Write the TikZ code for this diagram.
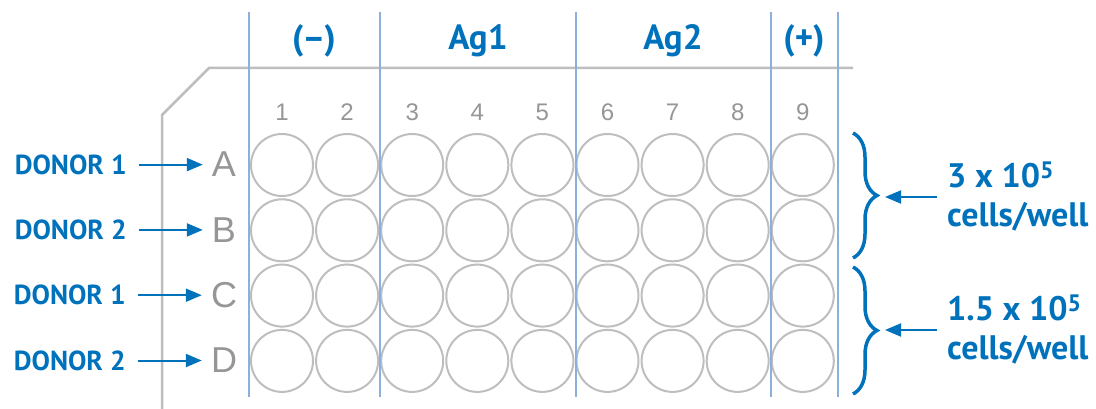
\documentclass[tikz,border=0pt]{standalone}
\usepackage{fontspec}
\setmainfont{PT Sans}
\newfontfamily\platefont{Liberation Sans}
\usetikzlibrary{arrows.meta, positioning, decorations.pathreplacing}
\definecolor{cblue}{RGB}{0,114,188}
\definecolor{lineblue}{RGB}{140,176,220}
\definecolor{wellgray}{RGB}{190,190,190}
\definecolor{txtgray}{RGB}{150,150,150}

\begin{document}
\begin{tikzpicture}[x=1pt, y=-1pt,
    well/.style={circle, draw=wellgray, line width=2pt, minimum size=62pt, inner sep=0pt},
    head/.style={text=cblue, font=\fontsize{35}{40}\selectfont\bfseries, anchor=base},
    colnum/.style={text=txtgray, font=\platefont\fontsize{24}{28}\selectfont, anchor=base},
    rowlbl/.style={text=txtgray, font=\platefont\fontsize{36}{40}\selectfont, inner sep=0pt, anchor=base},
    donor/.style={text=cblue, font=\fontsize{27.5}{32}\selectfont\bfseries, inner sep=0pt},
    dens/.style={text=cblue, font=\fontsize{34}{39}\selectfont\bfseries, align=left, anchor=west, inner sep=0pt},
    arr/.style={-{Triangle[length=16pt,width=13pt]}, cblue, line width=2pt},
    brc/.style={decorate, decoration={brace, amplitude=24pt}, cblue, line width=3.5pt}]
    \useasboundingbox (0,0) rectangle (1096,409);
    % plate outline
    \draw[wellgray, line width=2.5pt] (853,68) -- (209,68) -- (162,115) -- (162,409);
    % headers
    \node[head] (hneg) at (314,50) {(--)};
    \node[head] (hag1) at (478,50) {Ag1};
    \node[head] (hag2) at (673,50) {Ag2};
    \node[head] (hpos) at (804,50) {(+)};
    \foreach \c in {1,...,9}
        \node[colnum] (n\c) at ({282+65.1*(\c-1)},121) {\c};
    % wells
    \foreach \r [count=\i from 0] in {A,B,C,D}{
        \node[rowlbl] (row\r) at (224,{177+65.3*\i}) {\r};
        \foreach \c in {1,...,9}
            \node[well] (w\r\c) at ({282+65.1*(\c-1)},{165+65.3*\i}) {};
    }
    \foreach \x in {249,380,576,771,838}
        \draw[lineblue, line width=2pt] (\x,12) -- (\x,397);
    % donors
    \foreach \r/\d in {A/1,B/2,C/1,D/2}{
        \node[donor, left=85pt of row\r] (don\r) {DONOR \d};
        \draw[arr, shorten <=12pt, shorten >=9pt] (don\r) -- (row\r);
    }
    % cell densities
    \coordinate (b1t) at (853,133);
    \coordinate (b1b) at (853,258);
    \coordinate (b2t) at (853,267);
    \coordinate (b2b) at (853,394);
    \coordinate (tip1) at (877,197);
    \coordinate (tip2) at (877,330);
    \draw[brc] (b1t) -- (b1b);
    \draw[brc] (b2t) -- (b2b);
    \node[dens] (dn1) at (947,197) {3 x 10\textsuperscript{5}\\cells/well};
    \node[dens] (dn2) at (947,330) {1.5 x 10\textsuperscript{5}\\cells/well};
    \draw[arr, shorten <=10pt, shorten >=8pt] (dn1.west) -- (tip1);
    \draw[arr, shorten <=10pt, shorten >=8pt] (dn2.west) -- (tip2);
\end{tikzpicture}
\end{document}
